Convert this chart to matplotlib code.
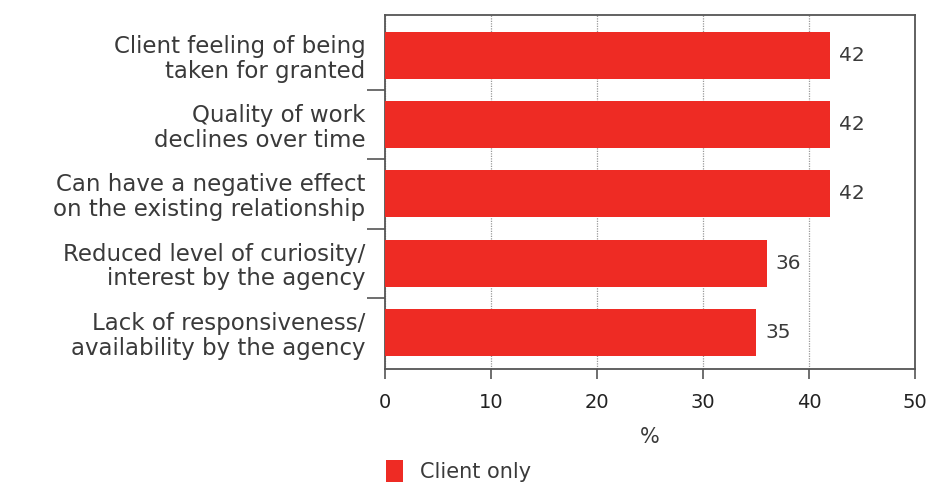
import matplotlib
matplotlib.use("Agg")
import matplotlib.pyplot as plt
from matplotlib.patches import Patch

categories = [
    "Client feeling of being\ntaken for granted",
    "Quality of work\ndeclines over time",
    "Can have a negative effect\non the existing relationship",
    "Reduced level of curiosity/\ninterest by the agency",
    "Lack of responsiveness/\navailability by the agency",
]
client_only = [42, 42, 42, 36, 35]
x_ticks = [0, 10, 20, 30, 40, 50]
series_name = "Client only"
axis_label = "%"

BAR = "#EE2B24"
TEXT = "#3a3a3a"
SPINE = "#555555"

plt.rcParams["font.family"] = ["DejaVu Sans"]

fig = plt.figure(figsize=(9.34, 4.86), dpi=100)
ax = fig.add_axes([385 / 934, 1 - 369 / 486, 530 / 934, 354 / 486])

pos = list(range(len(categories)))
ax.barh(pos, client_only, height=0.68, color=BAR, zorder=3)

for y, v in zip(pos, client_only):
    ax.annotate(f"{v:g}", (v, y), xytext=(6.5, 0), textcoords="offset points",
                ha="left", va="center", fontsize=14.5, color=TEXT)

ax.set_xlim(0, 50)
ax.set_ylim(4.53, -0.585)
ax.set_xticks(x_ticks)
ax.set_xticklabels([str(t) for t in x_ticks], fontsize=14, color="#222222")
ax.tick_params(axis="x", direction="out", length=7, width=1.2, color=SPINE, pad=10)

ax.set_yticks(pos)
ax.set_yticklabels(categories, fontsize=16.5, color=TEXT, linespacing=1.1)
ax.tick_params(axis="y", which="major", length=0, pad=14)
ax.set_yticks([p + 0.5 for p in pos[:-1]], minor=True)
ax.tick_params(axis="y", which="minor", direction="out", length=13, width=1.2,
               color=SPINE)

ax.xaxis.grid(True, linestyle=(0, (1, 1)), color="#999999", linewidth=0.9, zorder=0)
ax.set_axisbelow(True)

for s in ax.spines.values():
    s.set_color(SPINE)
    s.set_linewidth(1.3)

ax.set_xlabel(axis_label, fontsize=15, color=TEXT, labelpad=11)

fig.legend(handles=[Patch(facecolor=BAR, label=series_name)],
           loc="upper left", bbox_to_anchor=(367 / 934, 1 - 441 / 486),
           frameon=False, handlelength=0.85, handleheight=1.3,
           handletextpad=0.8, labelcolor=TEXT, prop={"size": 15})

fig.savefig("out.png", dpi=100, facecolor="white")
